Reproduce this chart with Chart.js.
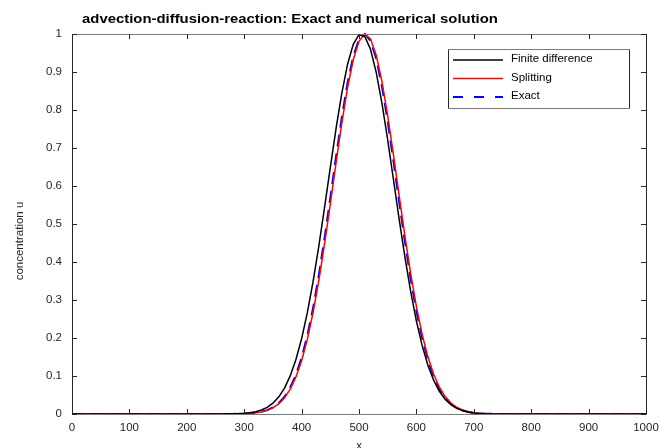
<!DOCTYPE html>
<html>
<head>
<meta charset="utf-8">
<script src="https://cdn.jsdelivr.net/npm/chart.js@4"></script>
<style>
  html, body { margin: 0; padding: 0; background: #fff; }
  #wrap { width: 662px; height: 448px; }
</style>
</head>
<body>
<div id="wrap"><canvas id="plot" width="662" height="448"></canvas></div>
<script>
// ---------- Data ----------
const xs = [0, 250,
  280, 290, 300, 310, 320, 330, 340, 350, 360, 370,
  380, 390, 400, 410, 420, 430, 440, 450, 460, 470,
  480, 490, 500, 510, 520, 530, 540, 550, 560, 570,
  580, 590, 600, 610, 620, 630, 640, 650, 660, 670,
  680, 690, 700, 710, 720,
  750, 1000];

const finiteDiff = [0, 0,
  0.0005, 0.001, 0.0019, 0.0035, 0.0062, 0.0106, 0.0175, 0.0284, 0.0444, 0.0675,
  0.0996, 0.1426, 0.1979, 0.2666, 0.3484, 0.4418, 0.5435, 0.6486, 0.7511, 0.8439,
  0.9199, 0.9728, 0.9981, 0.9936, 0.9597, 0.8992, 0.8175, 0.7211, 0.6171, 0.5123,
  0.4127, 0.3225, 0.2446, 0.1799, 0.1284, 0.0889, 0.0597, 0.0389, 0.0246, 0.0151,
  0.009, 0.0052, 0.0029, 0.0016, 0.0008,
  0, 0];

const splitting = [0, 0,
  0.0002, 0.0004, 0.0008, 0.0016, 0.003, 0.0054, 0.0095, 0.016, 0.0264, 0.042,
  0.0648, 0.0969, 0.1402, 0.1967, 0.2671, 0.3513, 0.4477, 0.5525, 0.6606, 0.7649,
  0.858, 0.9321, 0.9809, 0.9998, 0.9872, 0.944, 0.8745, 0.7846, 0.682, 0.5741,
  0.4681, 0.3697, 0.2828, 0.2096, 0.1504, 0.1046, 0.0704, 0.0459, 0.029, 0.0178,
  0.0105, 0.006, 0.0034, 0.0018, 0.0009,
  0, 0];

const exact = [0, 0,
  0.0002, 0.0005, 0.0009, 0.0018, 0.0033, 0.0059, 0.0102, 0.0173, 0.0283, 0.0449,
  0.069, 0.1026, 0.1478, 0.2063, 0.2788, 0.365, 0.463, 0.5687, 0.6767, 0.7798,
  0.8705, 0.9412, 0.9857, 1.0, 0.9826, 0.9352, 0.8622, 0.77, 0.6659, 0.5579,
  0.4528, 0.3559, 0.271, 0.1998, 0.1427, 0.0988, 0.0662, 0.043, 0.027, 0.0165,
  0.0097, 0.0055, 0.0031, 0.0016, 0.0009,
  0, 0];

const seriesNames = ["Finite difference", "Splitting", "Exact"];
const titleText = "advection-diffusion-reaction: Exact and numerical solution";
const xLabel = "x";
const yLabel = "concentration u";

const FONT = "'Liberation Sans', Arial, Helvetica, sans-serif";
const AXIS_COL = "#262626";

function pts(vals) {
  return xs.map((x, i) => ({ x: x, y: vals[i] }));
}

// ---------- MATLAB-like frame, ticks, legend and labels ----------
const matlabFrame = {
  id: "matlabFrame",
  afterDraw(chart) {
    const ctx = chart.ctx;
    const a = chart.chartArea;
    const sx = chart.scales.x, sy = chart.scales.y;
    const L = Math.round(a.left), R = Math.round(a.right);
    const T = Math.round(a.top), B = Math.round(a.bottom);
    ctx.save();
    ctx.lineWidth = 1;

    // box: verticals crisp, horizontals soft (as in the picture)
    ctx.strokeStyle = AXIS_COL;
    ctx.beginPath();
    ctx.moveTo(L + 0.5, T); ctx.lineTo(L + 0.5, B + 1);
    ctx.moveTo(R + 0.5, T); ctx.lineTo(R + 0.5, B + 1);
    ctx.stroke();
    ctx.strokeStyle = "#7a7a7a";
    ctx.beginPath();
    ctx.moveTo(L, T + 0.5); ctx.lineTo(R + 1, T + 0.5);
    ctx.moveTo(L, B + 0.5); ctx.lineTo(R + 1, B + 0.5);
    ctx.stroke();

    // inward ticks
    ctx.strokeStyle = AXIS_COL;
    ctx.beginPath();
    sx.ticks.forEach(t => {
      const px = Math.round(sx.getPixelForValue(t.value)) + 0.5;
      ctx.moveTo(px, B); ctx.lineTo(px, B - 5);
      ctx.moveTo(px, T); ctx.lineTo(px, T + 5);
    });
    sy.ticks.forEach(t => {
      const py = Math.round(sy.getPixelForValue(t.value)) + 0.5;
      ctx.moveTo(L, py); ctx.lineTo(L + 5, py);
      ctx.moveTo(R, py); ctx.lineTo(R - 5, py);
    });
    ctx.stroke();

    // legend
    const lx = 448, ly = 49, lw = 181, lh = 59;
    ctx.fillStyle = "#fff";
    ctx.fillRect(lx, ly, lw, lh);
    ctx.strokeStyle = AXIS_COL;
    ctx.beginPath();
    ctx.moveTo(lx + 0.5, ly); ctx.lineTo(lx + 0.5, ly + lh);
    ctx.moveTo(lx + lw + 0.5, ly); ctx.lineTo(lx + lw + 0.5, ly + lh);
    ctx.stroke();
    ctx.strokeStyle = "#7a7a7a";
    ctx.beginPath();
    ctx.moveTo(lx, ly + 0.5); ctx.lineTo(lx + lw + 1, ly + 0.5);
    ctx.moveTo(lx, ly + lh + 0.5); ctx.lineTo(lx + lw + 1, ly + lh + 0.5);
    ctx.stroke();

    const rowY = [60, 78.5, 97];
    chart.data.datasets.forEach((ds, i) => {
      const y = rowY[i];
      ctx.strokeStyle = ds.borderColor;
      ctx.lineWidth = ds.borderWidth;
      ctx.setLineDash(ds.borderDash ? [10, 11] : []);
      ctx.beginPath();
      ctx.moveTo(453, y); ctx.lineTo(503, y);
      ctx.stroke();
      ctx.setLineDash([]);
      ctx.fillStyle = "#000";
      ctx.font = "11.5px " + FONT;
      ctx.textAlign = "left";
      ctx.textBaseline = "middle";
      ctx.fillText(ds.label, 511, y - 1);
    });

    // title (stretched a little, like the reference)
    ctx.fillStyle = "#000";
    ctx.font = "bold 12px " + FONT;
    ctx.textAlign = "center";
    ctx.textBaseline = "alphabetic";
    ctx.save();
    ctx.translate(290, 22.5);
    ctx.scale(1.24, 1);
    ctx.fillText(titleText, 0, 0);
    ctx.restore();

    // axis labels
    ctx.fillStyle = AXIS_COL;
    ctx.font = "11.5px " + FONT;
    ctx.textAlign = "center";
    ctx.textBaseline = "top";
    ctx.fillText(xLabel, (L + R) / 2, 440);
    ctx.save();
    ctx.translate(20, 241);
    ctx.rotate(-Math.PI / 2);
    ctx.textBaseline = "middle";
    ctx.fillText(yLabel, 0, 0);
    ctx.restore();

    ctx.restore();
  }
};

// ---------- Chart ----------
const ctx = document.getElementById("plot").getContext("2d");
const chart = new Chart(ctx, {
  type: "line",
  data: {
    datasets: [
      { label: seriesNames[0], data: pts(finiteDiff), borderColor: "#000000",
        borderWidth: 1.5, pointRadius: 0, fill: false, clip: 4 },
      { label: seriesNames[1], data: pts(splitting), borderColor: "#ff0000",
        borderWidth: 1.5, pointRadius: 0, fill: false, clip: 4 },
      { label: seriesNames[2], data: pts(exact), borderColor: "#0000ff",
        borderWidth: 2, borderDash: [12, 7], pointRadius: 0, fill: false, clip: 4 }
    ]
  },
  options: {
    responsive: false,
    animation: false,
    devicePixelRatio: 1,
    layout: { padding: { top: 34, right: 16, left: 0, bottom: 0 } },
    plugins: {
      legend: { display: false },
      title: { display: false },
      tooltip: { enabled: false }
    },
    scales: {
      x: {
        type: "linear",
        min: 0, max: 1000,
        grid: { display: false, drawTicks: false },
        border: { display: false },
        ticks: {
          stepSize: 100, autoSkip: false, maxRotation: 0, padding: 7,
          color: AXIS_COL, font: { family: FONT, size: 11.5 },
          callback: v => String(v)
        },
        afterFit: s => { s.height = 34; s.paddingLeft = 0; s.paddingRight = 0; }
      },
      y: {
        min: 0, max: 1,
        grid: { display: false, drawTicks: false },
        border: { display: false },
        ticks: {
          stepSize: 0.1, autoSkip: false, padding: 10,
          color: AXIS_COL, font: { family: FONT, size: 11.5 },
          callback: v => String(Math.round(v * 10) / 10)
        },
        afterFit: s => { s.width = 72; s.paddingTop = 0; s.paddingBottom = 0; }
      }
    }
  },
  plugins: [matlabFrame]
});
</script>
</body>
</html>
